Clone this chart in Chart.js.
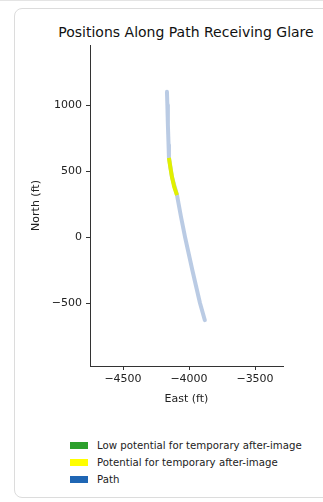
<!DOCTYPE html>
<html>
<head>
<meta charset="utf-8">
<script src="https://cdn.jsdelivr.net/npm/chart.js@4.4.1/dist/chart.umd.min.js"></script>
<style>
    html, body { margin: 0; padding: 0; background: #fff; }
    body { width: 323px; height: 502px; position: relative; overflow: hidden; font-family: "DejaVu Sans", sans-serif; }
    .topline { position: absolute; left: 0; top: 0; width: 323px; height: 1px; background: #e4e4e4; }
    .card { position: absolute; left: 14px; top: 8px; width: 340px; height: 490px; border: 1px solid #dcdcdc; border-radius: 8px; box-sizing: border-box; }
    #title { position: absolute; left: 36px; width: 300px; top: 24px; text-align: center; font-size: 14px; line-height: 17px; color: #111; white-space: nowrap; }
    #wrap { position: absolute; left: 0; top: 0; width: 323px; height: 420px; }
    #legend { position: absolute; left: 70px; top: 437px; font-size: 10.2px; color: #222; }
    #legend div { height: 17px; line-height: 14px; display: flex; align-items: center; }
    #legend span.box { display: inline-block; width: 18px; height: 7px; margin-right: 9px; }
</style>
</head>
<body>
<div class="topline"></div>
<div class="card"></div>
<div id="title">Positions Along Path Receiving Glare</div>
<div id="wrap"><canvas id="chart" width="323" height="420"></canvas></div>
<div id="legend"></div>
<script>
// full path, east/north in feet
const pathEast = [-4167, -4164, -4160, -4155, -4152, -4129, -4091, -4060, -4030, -3975, -3917, -3880];
const pathNorth = [1100, 1000, 850, 700, 600, 455, 318, 150, 0, -250, -500, -630];

// part of the path receiving glare
const glareEast = [-4152, -4140, -4129, -4112, -4091];
const glareNorth = [600, 520, 455, 380, 318];

// no points with low potential
const lowEast = [];
const lowNorth = [];

const xTicks = [-4500, -4000, -3500];
const yTicks = [-500, 0, 500, 1000];

const legendLabels = ['Low potential for temporary after-image', 'Potential for temporary after-image', 'Path'];
const legendColors = ['#2ca02c', '#ffff00', '#1f66b4'];

const toPoints = (xs, ys) => xs.map((x, i) => ({ x, y: ys[i] }));
const fmt = v => String(v).replace('-', '\u2212');
const font = { family: '"DejaVu Sans", sans-serif', size: 11 };

// first dataset is drawn on top
new Chart(document.getElementById('chart'), {
    type: 'scatter',
    data: {
        datasets: [
            { label: legendLabels[0], data: toPoints(lowEast, lowNorth), showLine: true, borderColor: legendColors[0], borderWidth: 4, pointRadius: 0 },
            { label: legendLabels[1], data: toPoints(glareEast, glareNorth), showLine: true, borderColor: 'rgb(225,240,0)', borderWidth: 4, pointRadius: 0 },
            { label: legendLabels[2], data: toPoints(pathEast, pathNorth), showLine: true, borderColor: 'rgba(90,130,190,0.42)', borderWidth: 4, pointRadius: 0, borderCapStyle: 'round', borderJoinStyle: 'round' },
        ],
    },
    options: {
        responsive: false,
        animation: false,
        layout: { padding: { left: 0, right: 40, top: 45, bottom: 14 } },
        plugins: {
            legend: { display: false },
            tooltip: { enabled: false },
        },
        scales: {
            x: {
                type: 'linear',
                min: -4750,
                max: -3288,
                afterBuildTicks: axis => { axis.ticks = xTicks.map(v => ({ value: v })); },
                afterFit: axis => { axis.height = 40; },
                ticks: { color: '#222', font, padding: 3, maxRotation: 0, callback: fmt },
                grid: { drawOnChartArea: false, tickLength: 4, color: '#333' },
                border: { color: '#333' },
                title: { display: true, text: 'East (ft)', color: '#222', font, padding: { top: 2, bottom: 0 } },
            },
            y: {
                type: 'linear',
                min: -977,
                max: 1455,
                afterBuildTicks: axis => { axis.ticks = yTicks.map(v => ({ value: v })); },
                afterFit: axis => { axis.width = 90; },
                ticks: { color: '#222', font, padding: 4, callback: fmt },
                grid: { drawOnChartArea: false, tickLength: 4, color: '#333' },
                border: { color: '#333' },
                title: { display: true, text: 'North (ft)', color: '#222', font, padding: { top: 30, bottom: 0 } },
            },
        },
    },
});

const legend = document.getElementById('legend');
legendLabels.forEach((label, i) => {
    const row = document.createElement('div');
    row.innerHTML = `<span class="box" style="background:${legendColors[i]}"></span>${label}`;
    legend.appendChild(row);
});
</script>
</body>
</html>
